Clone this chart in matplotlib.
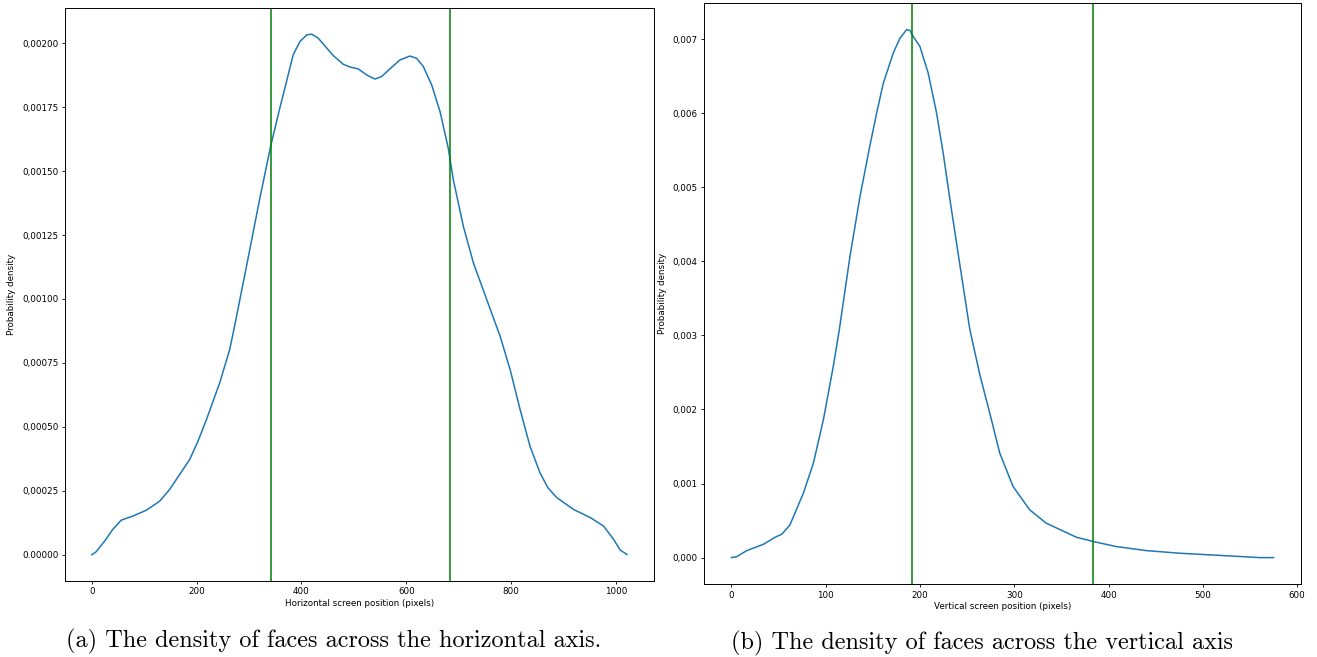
import matplotlib
matplotlib.use("Agg")
import matplotlib.pyplot as plt
from matplotlib.ticker import FuncFormatter, MultipleLocator

# density across the horizontal axis (screen width 1024)
hx = [0, 8.4, 24.3, 40, 56, 78.3, 104, 129.3, 148.5, 167.6, 186.7, 202.6, 218.6, 244,
      263, 271, 295, 320, 341, 358.6, 371.4, 384, 396.8, 409.6, 419, 431.8, 444.6,
      460.5, 479.6, 492.4, 508.2, 524.3, 540, 553, 568.8, 588, 607, 619.8, 632.4,
      648.4, 664.3, 680, 689.7, 708.8, 728, 753.5, 779, 798, 817, 836, 855, 870, 887,
      919, 951, 976.3, 995.4, 1008, 1021]
hy = [0, 0.0000117, 0.000053, 0.0000988, 0.000135, 0.000151, 0.000174, 0.000209,
      0.000255, 0.000314, 0.000372, 0.000444, 0.000528, 0.000672, 0.000802, 0.00088,
      0.001127, 0.001388, 0.001596, 0.001746, 0.00185, 0.001954, 0.002006, 0.002032,
      0.002036, 0.00202, 0.00199, 0.001952, 0.001918, 0.001907, 0.0019, 0.001876,
      0.00186, 0.00187, 0.0019, 0.001935, 0.00195, 0.001941, 0.001909, 0.001837,
      0.001733, 0.00159, 0.001466, 0.001284, 0.001141, 0.000997, 0.000854, 0.000724,
      0.000568, 0.000424, 0.00032, 0.000262, 0.000223, 0.000177, 0.000145, 0.000112,
      0.00006, 0.000018, 0.000001]

# density across the vertical axis (screen height 576)
vx = [0, 5.7, 16.3, 34, 46.3, 53.4, 62, 76.3, 86.9, 97.5, 108, 114.4, 125.7, 136.3,
      147, 154, 161, 171.6, 178.7, 185.8, 189.3, 192.8, 199.9, 208.7, 217.6, 224.6,
      231.3, 242, 252.9, 263.5, 274, 284.6, 298.7, 316.4, 334, 365.9, 384.2, 408.3,
      440, 475.3, 528, 560, 575]
vy = [0, 0.0000135, 0.0000945, 0.00018, 0.000275, 0.000316, 0.00044, 0.00087, 0.001275,
      0.00186, 0.00258, 0.003075, 0.004064, 0.00487, 0.00557, 0.006, 0.0064, 0.00681,
      0.00701, 0.007126, 0.007116, 0.007035, 0.0069, 0.00654, 0.006, 0.00546, 0.00487,
      0.003975, 0.003075, 0.002467, 0.00195, 0.00141, 0.00096, 0.000644, 0.000464,
      0.000275, 0.000216, 0.000149, 0.0000945, 0.0000594, 0.000023, 0, 0]

h_lines = [1024 / 3, 2 * 1024 / 3]
v_lines = [576 / 3, 2 * 576 / 3]

captions = ["(a) The density of faces across the horizontal axis.",
            "(b) The density of faces across the vertical axis"]

fs = 6.3


def comma(fmt, zero_dot=False):
    def f(v, pos):
        s = fmt % v
        if zero_dot and abs(v) < 1e-12:
            return s
        return s.replace(".", ",")
    return FuncFormatter(f)


def style(ax):
    for sp in ax.spines.values():
        sp.set_linewidth(0.7)
    ax.tick_params(labelsize=fs, length=2.3, width=0.6, pad=2.5)


fig = plt.figure(figsize=(13.17, 6.57), dpi=100)

ax1 = fig.add_axes([0.0494, 0.1161, 0.4470, 0.8717])
ax1.plot(hx, hy, color="#1f77b4", lw=1.1)
for v in h_lines:
    ax1.axvline(v, color="green", lw=1.1)
ax1.yaxis.set_major_locator(MultipleLocator(0.00025))
ax1.yaxis.set_major_formatter(comma("%.5f", zero_dot=True))
ax1.set_xlabel("Horizontal screen position (pixels)", fontsize=fs, labelpad=2)
ax1.set_ylabel("Probability density", fontsize=fs, labelpad=4)
style(ax1)

ax2 = fig.add_axes([0.5348, 0.1111, 0.4528, 0.8839])
ax2.plot(vx, vy, color="#1f77b4", lw=1.1)
for v in v_lines:
    ax2.axvline(v, color="green", lw=1.1)
ax2.yaxis.set_major_locator(MultipleLocator(0.001))
ax2.yaxis.set_major_formatter(comma("%.3f"))
ax2.set_xlabel("Vertical screen position (pixels)", fontsize=fs, labelpad=2)
ax2.set_ylabel("Probability density", fontsize=fs, labelpad=4)
style(ax2)

fig.text(334 / 1317, 1 - 641 / 657, captions[0], ha="center", va="center",
         fontfamily="cmr10", fontsize=17.5)
fig.text(982 / 1317, 1 - 643 / 657, captions[1], ha="center", va="center",
         fontfamily="cmr10", fontsize=17.5)

fig.savefig("out.png", dpi=100)
